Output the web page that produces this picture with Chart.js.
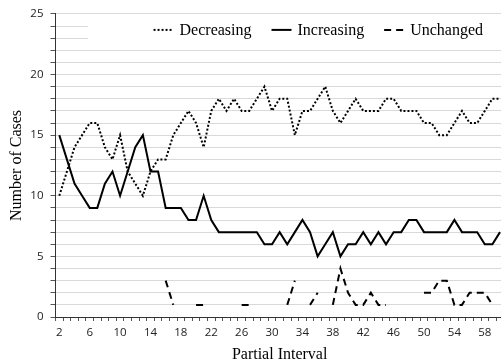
<!DOCTYPE html>
<html>
<head>
<meta charset="utf-8">
<script src="https://cdn.jsdelivr.net/npm/chart.js@4.4.1/dist/chart.umd.min.js"></script>
<style>
  html, body { margin: 0; padding: 0; background: #fff; width: 501px; height: 364px; overflow: hidden; }
  #wrap { width: 505px; height: 364px; }
</style>
</head>
<body>
<div id="wrap"><canvas id="cases-chart"></canvas></div>
<script>
// partial intervals 2..60
const categories = ['2','3','4','5','6','7','8','9','10','11','12','13','14','15','16','17','18','19','20',
  '21','22','23','24','25','26','27','28','29','30','31','32','33','34','35','36','37','38','39','40',
  '41','42','43','44','45','46','47','48','49','50','51','52','53','54','55','56','57','58','59','60'];

const decreasing = [10,12,14,15,16,16,14,13,15,12,11,10,12,13,13,15,16,17,16,
  14,17,18,17,18,17,17,18,19,17,18,18,15,17,17,18,19,17,16,17,
  18,17,17,17,18,18,17,17,17,16,16,15,15,16,17,16,16,17,18,18];

const increasing = [15,13,11,10,9,9,11,12,10,12,14,15,12,12,9,9,9,8,8,
  10,8,7,7,7,7,7,7,6,6,7,6,7,8,7,5,6,7,5,6,
  6,7,6,7,6,7,7,8,8,7,7,7,7,8,7,7,7,6,6,7];

const unchanged = [null,null,null,null,null,null,null,null,null,null,null,null,null,null,3,1,null,null,1,
  1,null,null,null,null,1,1,null,null,null,null,1,3,null,1,2,null,1,4,2,
  1,1,2,1,1,null,null,null,null,2,2,3,3,1,1,2,2,2,1,null];

const yTicks = [0, 5, 10, 15, 20, 25];

const serif = '"Liberation Serif", "Times New Roman", serif';
const sans = '"Open Sans", "Noto Sans", sans-serif';

// legend drawn inside the plot, top right, like the original
const cornerLegend = {
  id: 'cornerLegend',
  afterDraw(chart) {
    const { ctx, chartArea } = chart;
    ctx.save();
    ctx.fillStyle = '#fff';
    ctx.fillRect(88, chartArea.top + 2, chartArea.right - 88, 34);
    ctx.font = '16px ' + serif;
    ctx.textBaseline = 'middle';
    const sample = 20, gapText = 6, gapItem = 20;
    const y = chartArea.top + 16;
    const items = chart.data.datasets.map(ds => ({ ds, w: ctx.measureText(ds.label).width }));
    const total = items.reduce((s, it) => s + sample + gapText + it.w, 0) + gapItem * (items.length - 1);
    let x = 483 - total;
    items.forEach(({ ds, w }) => {
      ctx.strokeStyle = ds.borderColor;
      ctx.lineWidth = ds.borderWidth;
      ctx.setLineDash(ds.borderDash || []);
      ctx.beginPath();
      ctx.moveTo(x, y);
      ctx.lineTo(x + sample, y);
      ctx.stroke();
      ctx.setLineDash([]);
      ctx.fillStyle = '#000';
      ctx.fillText(ds.label, x + sample + gapText, y + 1);
      x += sample + gapText + w + gapItem;
    });
    ctx.restore();
  }
};

new Chart(document.getElementById('cases-chart'), {
  type: 'line',
  data: {
    labels: categories,
    datasets: [
      { label: 'Decreasing', data: decreasing, borderColor: '#000', borderWidth: 2, borderDash: [2, 2], pointRadius: 0, tension: 0 },
      { label: 'Increasing', data: increasing, borderColor: '#000', borderWidth: 2, pointRadius: 0, tension: 0 },
      { label: 'Unchanged', data: unchanged, borderColor: '#000', borderWidth: 2, borderDash: [7, 5], pointRadius: 0, tension: 0, spanGaps: false }
    ]
  },
  options: {
    responsive: true,
    maintainAspectRatio: false,
    animation: false,
    devicePixelRatio: 1,
    layout: { padding: { top: 11, right: 0, left: 0, bottom: 0 } },
    plugins: { legend: { display: false }, tooltip: { enabled: false } },
    scales: {
      x: {
        type: 'category',
        offset: true,
        afterFit: s => { s.height = 47; },
        grid: { offset: true, drawOnChartArea: false, tickLength: 4, color: '#555' },
        border: { color: '#333', width: 1 },
        ticks: {
          autoSkip: false, maxRotation: 0, padding: 5, color: '#222',
          font: { family: sans, size: 11.5 },
          callback: function(v, i) { return i % 4 === 0 ? this.getLabelForValue(v) : ''; }
        },
        title: { display: true, text: 'Partial Interval', color: '#000', font: { family: serif, size: 16 }, padding: { top: 0, bottom: 0 } }
      },
      y: {
        min: 0, max: 25,
        afterFit: s => { s.width = 55.5; },
        grid: { color: '#d9d9d9', tickColor: '#555', tickLength: 5 },
        border: { color: '#333', width: 1 },
        ticks: {
          stepSize: 1, autoSkip: false, padding: 7, color: '#222',
          font: { family: sans, size: 11.5 },
          callback: v => yTicks.includes(v) ? v : ''
        },
        title: { display: true, text: 'Number of Cases', color: '#000', font: { family: serif, size: 16 }, padding: { top: 7, bottom: 0 } }
      }
    }
  },
  plugins: [cornerLegend]
});
</script>
</body>
</html>
